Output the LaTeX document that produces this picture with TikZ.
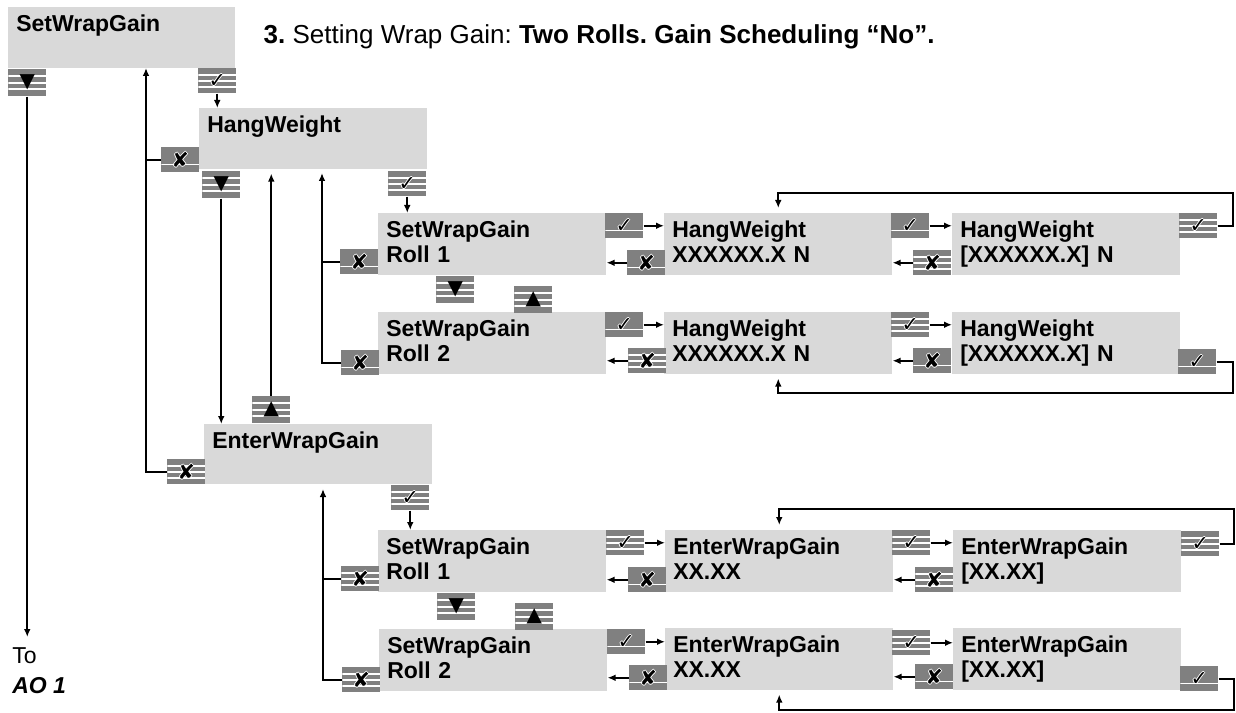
\documentclass[tikz,border=0pt]{standalone}
\usepackage{fontspec}
\setmainfont{Liberation Sans}
\newfontfamily\symfont{DejaVu Sans}
\usetikzlibrary{arrows.meta,calc}
\newdimen\pxu \pxu=0.75pt
\definecolor{panel}{HTML}{D9D9D9}
\definecolor{keygray}{HTML}{808080}
\definecolor{ink}{HTML}{000000}
\newcommand\keyglyph[1]{\leavevmode
  \rlap{\color{white}\raisebox{0.7pt}{#1}}\rlap{\color{white}\raisebox{-0.7pt}{#1}}%
  \rlap{\color{white}\hspace{0.7pt}#1}\rlap{\color{white}\hspace{-0.7pt}#1}#1}
\newcommand\keyok{\keyglyph{✓}}
\newcommand\keyno{\keyglyph{✘}}
\newcommand\keydn{▼}
\newcommand\keyup{▲}
\tikzset{
  screen/.style={rectangle,fill=panel,anchor=north west,align=left,inner xsep=8\pxu,inner ysep=0pt,
    text width=212\pxu,text height=24\pxu,text depth=38\pxu,font=\fontsize{17.25pt}{18.75pt}\selectfont\bfseries},
  keybase/.style={rectangle,fill=keygray,anchor=north west,inner sep=0pt,minimum width=38\pxu,minimum height=25\pxu,
    font=\symfont\fontsize{15.5pt}{15.5pt}\selectfont},
  solidkey/.style={keybase,path picture={
    \draw[white,line width=1.2\pxu] ($(path picture bounding box.south west)!0.3!(path picture bounding box.north west)$)
      -- ($(path picture bounding box.south east)!0.3!(path picture bounding box.north east)$);}},
  linedkey/.style={keybase,path picture={
    \foreach \f in {0.26,0.5,0.74}
      \draw[white,line width=2\pxu] ($(path picture bounding box.south west)!\f!(path picture bounding box.north west)$)
        -- ($(path picture bounding box.south east)!\f!(path picture bounding box.north east)$);}},
  navkey/.style={linedkey,minimum height=27\pxu,font=\symfont\fontsize{15pt}{15pt}\selectfont},
  arr/.style={-{Latex[length=6pt,width=5pt]},line width=2.4\pxu,draw=ink},
  wire/.style={line width=2.4\pxu,draw=ink}
}
\begin{document}
\begin{tikzpicture}[x=\pxu,y=-\pxu]
  \useasboundingbox (0,0) rectangle (1236,713);

  \node[anchor=base west,font=\fontsize{19.5pt}{22pt}\selectfont\frenchspacing] (title) at (259,44)
    {\textbf{3.} Setting Wrap Gain: \textbf{Two Rolls. Gain Scheduling “No”.}};

  \node[screen,text width=211\pxu,text depth=37\pxu] (swg) at (8,7) {SetWrapGain};
  \node[screen,text depth=37\pxu] (hw) at (199,108) {HangWeight};
  \node[screen,text depth=36\pxu] (ewg) at (204,424) {EnterWrapGain};

  \node[screen] (r1a) at (378,213) {SetWrapGain\\Roll 1};
  \node[screen] (r1b) at (664,213) {HangWeight\\XXXXXX.X N};
  \node[screen] (r1c) at (952,213) {HangWeight\\{[XXXXXX.X]} N};
  \node[screen] (r2a) at (378,312) {SetWrapGain\\Roll 2};
  \node[screen] (r2b) at (664,312) {HangWeight\\XXXXXX.X N};
  \node[screen] (r2c) at (952,312) {HangWeight\\{[XXXXXX.X]} N};

  \node[screen] (e1a) at (378,530) {SetWrapGain\\Roll 1};
  \node[screen] (e1b) at (665,530) {EnterWrapGain\\XX.XX};
  \node[screen] (e1c) at (953,530) {EnterWrapGain\\{[XX.XX]}};
  \node[screen] (e2a) at (379,629) {SetWrapGain\\Roll 2};
  \node[screen] (e2b) at (665,628) {EnterWrapGain\\XX.XX};
  \node[screen] (e2c) at (953,628) {EnterWrapGain\\{[XX.XX]}};

  \node[anchor=north west,align=left,inner sep=0pt,font=\fontsize{17.25pt}{22.5pt}\selectfont] (toao) at (12,647)
    {To\\\textbf{\textit{AO 1}}};

  \node[navkey] (swgdn) at (8,69) {\keydn};
  \node[linedkey] (swgok) at (198,68) {\keyok};
  \node[solidkey] (hwx) at (161,147) {\keyno};
  \node[navkey] (hwdn) at (202,171) {\keydn};
  \node[linedkey] (hwok) at (388,171) {\keyok};
  \node[navkey] (ewgup) at (252,396) {\keyup};
  \node[linedkey] (ewgx) at (167,459) {\keyno};
  \node[linedkey] (ewgok) at (391,485) {\keyok};

  \node[solidkey] (r1ax) at (340,249) {\keyno};
  \node[solidkey] (r1aok) at (605,213) {\keyok};
  \node[solidkey] (r1bx) at (627,250) {\keyno};
  \node[solidkey] (r1bok) at (891,213) {\keyok};
  \node[linedkey] (r1cx) at (913,250) {\keyno};
  \node[linedkey] (r1cok) at (1179,213) {\keyok};
  \node[navkey] (r1dn) at (436,276) {\keydn};
  \node[navkey] (r2up) at (514,286) {\keyup};
  \node[solidkey] (r2ax) at (341,350) {\keyno};
  \node[solidkey] (r2aok) at (605,312) {\keyok};
  \node[linedkey] (r2bx) at (628,348) {\keyno};
  \node[linedkey] (r2bok) at (891,312) {\keyok};
  \node[solidkey] (r2cx) at (913,348) {\keyno};
  \node[solidkey] (r2cok) at (1178,349) {\keyok};

  \node[linedkey] (e1ax) at (341,566) {\keyno};
  \node[linedkey] (e1aok) at (606,530) {\keyok};
  \node[solidkey] (e1bx) at (628,567) {\keyno};
  \node[linedkey] (e1bok) at (892,530) {\keyok};
  \node[linedkey] (e1cx) at (915,567) {\keyno};
  \node[linedkey] (e1cok) at (1181,531) {\keyok};
  \node[navkey] (e1dn) at (437,593) {\keydn};
  \node[navkey] (e2up) at (515,603) {\keyup};
  \node[linedkey] (e2ax) at (342,667) {\keyno};
  \node[solidkey] (e2aok) at (607,629) {\keyok};
  \node[solidkey] (e2bx) at (629,665) {\keyno};
  \node[linedkey] (e2bok) at (892,630) {\keyok};
  \node[solidkey] (e2cx) at (915,664) {\keyno};
  \node[solidkey] (e2cok) at (1180,666) {\keyok};

  \draw[arr,shorten >=10\pxu] (swgdn.south) -- (swgdn.south |- toao.north);
  \draw[arr] (swgok.south) -- (swgok.south |- hw.north);
  \draw[arr] (hwdn.south) -- (hwdn.south |- ewg.north);
  \draw[arr,shorten >=4\pxu] (ewgup.north) -- (ewgup.north |- hw.south);
  \draw[arr] (hwok.south) -- (hwok.south |- r1a.north);
  \draw[arr] (ewgok.south) -- (ewgok.south |- e1a.north);

  \coordinate (bus1) at (146,68);
  \draw[arr] (ewgx.west) -| (bus1);
  \draw[wire] (hwx.west) -- (hwx.west -| bus1);
  \coordinate (bus2) at (322,169);
  \draw[arr,shorten >=4\pxu] (r2ax.west) -| (bus2);
  \draw[wire] (r1ax.west) -- (r1ax.west -| bus2);
  \coordinate (bus3) at (323,484);
  \draw[arr,shorten >=5\pxu] (e2ax.west) -| (bus3);
  \draw[wire] (e1ax.west) -- (e1ax.west -| bus3);

  \foreach \row in {r1,r2,e1,e2} {
    \draw[arr] (\row aok.east) -- (\row aok.east -| \row b.west);
    \draw[arr] (\row bx.west) -- (\row bx.west -| \row a.east);
    \draw[arr] (\row bok.east) -- (\row bok.east -| \row c.west);
    \draw[arr] (\row cx.west) -- (\row cx.west -| \row b.east);
  }

  \coordinate (loop1) at (1233,193);
  \draw[arr,shorten >=5\pxu] (r1cok.east) -| (loop1) -| (r1b.north);
  \coordinate (loop2) at (1233,393);
  \draw[arr,shorten >=4\pxu] (r2cok.east) -| (loop2) -| (r2b.south);
  \coordinate (loop3) at (1234,509);
  \draw[arr,shorten >=5\pxu] (e1cok.east) -| (loop3) -| (e1b.north);
  \coordinate (loop4) at (1234,710);
  \draw[arr,shorten >=4\pxu] (e2cok.east) -| (loop4) -| (e2b.south);
\end{tikzpicture}
\end{document}
